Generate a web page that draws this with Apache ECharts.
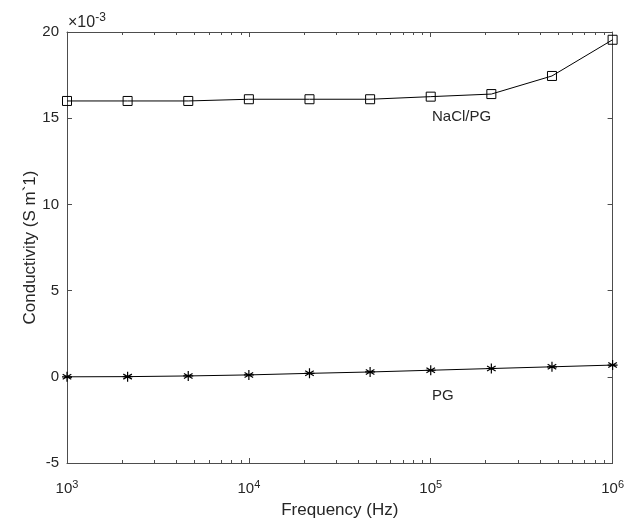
<!DOCTYPE html>
<html>
<head>
<meta charset="utf-8">
<script src="https://cdn.jsdelivr.net/npm/echarts@6/dist/echarts.min.js"></script>
<style>html,body{margin:0;padding:0;background:#fff}#c{width:627px;height:524px}</style>
</head>
<body>
<div id="c"></div>
<script>
// Frequency (Hz)
const frequencies = [1000, 2154, 4642, 10000, 21544, 46416, 100000, 215443, 464159, 1000000];
// Conductivity, in units of 1e-3 S m^-1
const naclPG = [16.0, 16.0, 16.0, 16.1, 16.1, 16.1, 16.25, 16.4, 17.45, 19.55];
const pg = [0.0, 0.01, 0.05, 0.11, 0.2, 0.28, 0.38, 0.48, 0.58, 0.68];
const yTicks = [-5, 0, 5, 10, 15, 20];
const decades = [1000, 10000, 100000];
const minorMultipliers = [2, 3, 4, 5, 6, 7, 8, 9];

const minorTicks = [];
decades.forEach(d => minorMultipliers.forEach(m => minorTicks.push([d * m])));

const TXT = '#262626';
const AX = '#4d4d4d';
const FONT = 'Liberation Sans, Arial, sans-serif';

const chart = echarts.init(document.getElementById('c'));

const asterisk = 'path://M5,0L5,10M0.7,2.5L9.3,7.5M0.7,7.5L9.3,2.5M0,5L10,5';

const option = {
  animation: false,
  textStyle: { fontFamily: FONT },
  grid: { left: 67, right: 13, top: 32, bottom: 61, containLabel: false },
  xAxis: [{
    type: 'log', logBase: 10, min: 1000, max: 1000000,
    position: 'bottom',
    name: 'Frequency (Hz)', nameLocation: 'middle', nameGap: 39, nameMoveOverlap: false,
    nameTextStyle: { color: TXT, fontSize: 17, fontFamily: FONT },
    axisLine: { show: true, onZero: false, lineStyle: { color: AX, width: 1 } },
    axisTick: { show: true, inside: true, length: 5, lineStyle: { color: AX } },
    splitLine: { show: false },
    axisLabel: {
      margin: 16, color: TXT,
      formatter: v => '{b|10}{s|' + Math.round(Math.log10(v)) + '}',
      rich: {
        b: { fontSize: 15, color: TXT, fontFamily: FONT },
        s: { fontSize: 11, color: TXT, fontFamily: FONT, verticalAlign: 'bottom', padding: [0, 0, 9, 0] }
      }
    }
  }, {
    type: 'log', logBase: 10, min: 1000, max: 1000000,
    position: 'top',
    axisLine: { show: true, onZero: false, lineStyle: { color: AX, width: 1 } },
    axisTick: { show: true, inside: true, length: 5, lineStyle: { color: AX } },
    axisLabel: { show: false },
    splitLine: { show: false }
  }],
  yAxis: [{
    type: 'value', min: -5, max: 20, interval: 5,
    position: 'left',
    name: 'Conductivity (S m`1)', nameLocation: 'middle', nameGap: 28, nameMoveOverlap: false,
    nameTextStyle: { color: TXT, fontSize: 17, fontFamily: FONT },
    axisLine: { show: true, onZero: false, lineStyle: { color: AX, width: 1 } },
    axisTick: { show: true, inside: true, length: 5, lineStyle: { color: AX } },
    splitLine: { show: false },
    axisLabel: { color: TXT, fontSize: 15, margin: 8, fontFamily: FONT,
      customValues: yTicks }
  }, {
    type: 'value', min: -5, max: 20, interval: 5,
    position: 'right',
    axisLine: { show: true, onZero: false, lineStyle: { color: AX, width: 1 } },
    axisTick: { show: true, inside: true, length: 5, lineStyle: { color: AX } },
    axisLabel: { show: false },
    splitLine: { show: false }
  }],
  graphic: [
    { type: 'text', left: 68, top: 12, style: {
      rich: {
        a: { fontSize: 16, fill: TXT, fontFamily: FONT },
        s: { fontSize: 12, fill: TXT, fontFamily: FONT, verticalAlign: 'bottom', padding: [0, 0, 9, 0] }
      },
      text: '{a|\u00d710}{s|-3}' } },
    { type: 'text', left: 432, top: 109, style: { text: 'NaCl/PG', fontSize: 15, fill: TXT, fontFamily: FONT } },
    { type: 'text', left: 432, top: 388, style: { text: 'PG', fontSize: 15, fill: TXT, fontFamily: FONT } }
  ],
  series: [
    {
      type: 'custom', xAxisIndex: 0, yAxisIndex: 0, silent: true, clip: false,
      data: minorTicks,
      renderItem: (params, api) => {
        const b = api.coord([api.value(0), -5]);
        const t = api.coord([api.value(0), 20]);
        const st = { stroke: AX, lineWidth: 1 };
        return { type: 'group', children: [
          { type: 'line', shape: { x1: Math.round(b[0]) + 0.5, y1: b[1], x2: Math.round(b[0]) + 0.5, y2: b[1] - 3 }, style: st },
          { type: 'line', shape: { x1: Math.round(t[0]) + 0.5, y1: t[1], x2: Math.round(t[0]) + 0.5, y2: t[1] + 3 }, style: st }
        ] };
      }
    },
    {
      name: 'NaCl/PG', type: 'line', xAxisIndex: 0, yAxisIndex: 0, clip: false,
      data: frequencies.map((f, i) => [f, naclPG[i]]),
      symbol: 'rect', symbolSize: 9,
      lineStyle: { color: '#000', width: 1 },
      itemStyle: { color: 'rgba(0,0,0,0)', borderColor: '#000', borderWidth: 1 }
    },
    {
      name: 'PG', type: 'line', xAxisIndex: 0, yAxisIndex: 0, clip: false,
      data: frequencies.map((f, i) => [f, pg[i]]),
      symbol: asterisk, symbolSize: 10,
      lineStyle: { color: '#000', width: 1 },
      itemStyle: { color: 'rgba(0,0,0,0)', borderColor: '#000', borderWidth: 1.2 }
    }
  ]
};
chart.setOption(option);
</script>
</body>
</html>
